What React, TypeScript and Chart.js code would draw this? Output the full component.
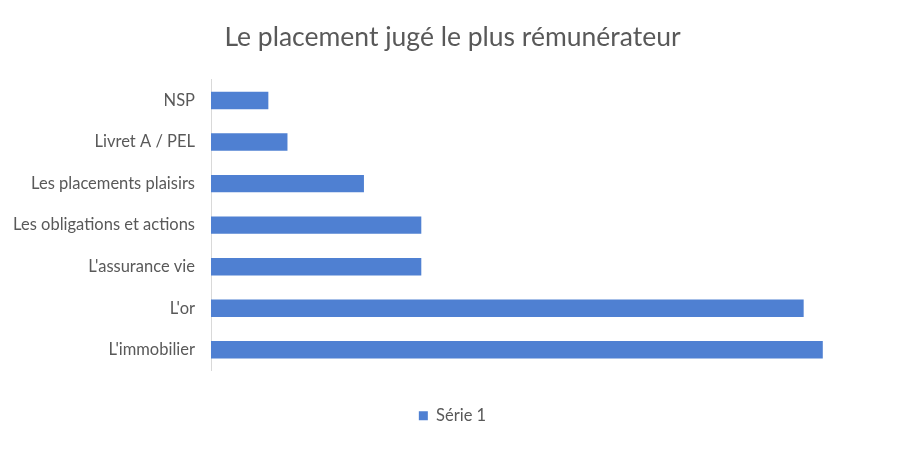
import React, { useEffect, useRef } from "react";
import { Chart, registerables } from "chart.js";

Chart.register(...registerables);

const categories = [
  "NSP",
  "Livret A / PEL",
  "Les placements plaisirs",
  "Les obligations et actions",
  "L'assurance vie",
  "L'or",
  "L'immobilier",
];
const serie1 = [3, 4, 8, 11, 11, 31, 32];
const seriesLabel = "Série 1";
const titleText = "Le placement jugé le plus rémunérateur";

const FONT = "Lato, 'Open Sans', sans-serif";
const TEXT = "#595959";
const BAR = "#4F80D2";

export default function App() {
  const ref = useRef<HTMLCanvasElement | null>(null);
  useEffect(() => {
    document.body.style.margin = "0";
    const ctx = ref.current!;
    const chart = new Chart(ctx, {
      type: "bar",
      data: {
        labels: categories,
        datasets: [
          {
            label: seriesLabel,
            data: serie1,
            backgroundColor: BAR,
            borderWidth: 0,
            categoryPercentage: 1,
            barPercentage: 0.42,
          },
        ],
      },
      options: {
        indexAxis: "y",
        animation: false,
        responsive: false,
        devicePixelRatio: 1,
        layout: { padding: { left: 0, right: 0, top: 0, bottom: 15 } },
        scales: {
          x: {
            display: true,
            min: 0,
            max: 36.3,
            ticks: { display: false },
            grid: { display: false, drawTicks: false },
            border: { display: false },
            afterFit: (s: any) => {
              s.height = 27;
            },
          },
          y: {
            ticks: {
              color: TEXT,
              font: { family: FONT, size: 16.5 },
              padding: 16,
            },
            grid: { display: false, drawTicks: false },
            border: { display: true, color: "#D9D9D9", width: 1 },
            afterFit: (s: any) => {
              s.width = 211;
            },
          },
        },
        plugins: {
          title: {
            display: true,
            text: titleText,
            color: TEXT,
            font: { family: FONT, size: 26.5, weight: "normal" },
            padding: { top: 22, bottom: 26 },
          },
          legend: {
            display: true,
            position: "bottom",
            labels: {
              color: TEXT,
              font: { family: FONT, size: 16.5 },
              boxWidth: 9,
              boxHeight: 9,
              padding: 10,
            },
          },
          tooltip: { enabled: false },
        },
      },
    });
    return () => chart.destroy();
  }, []);
  return (
    <div style={{ position: "absolute", left: 0, top: 0, width: 905, height: 449, background: "#fff" }}>
      <canvas ref={ref} width={905} height={449} style={{ width: 905, height: 449 }} />
    </div>
  );
}
